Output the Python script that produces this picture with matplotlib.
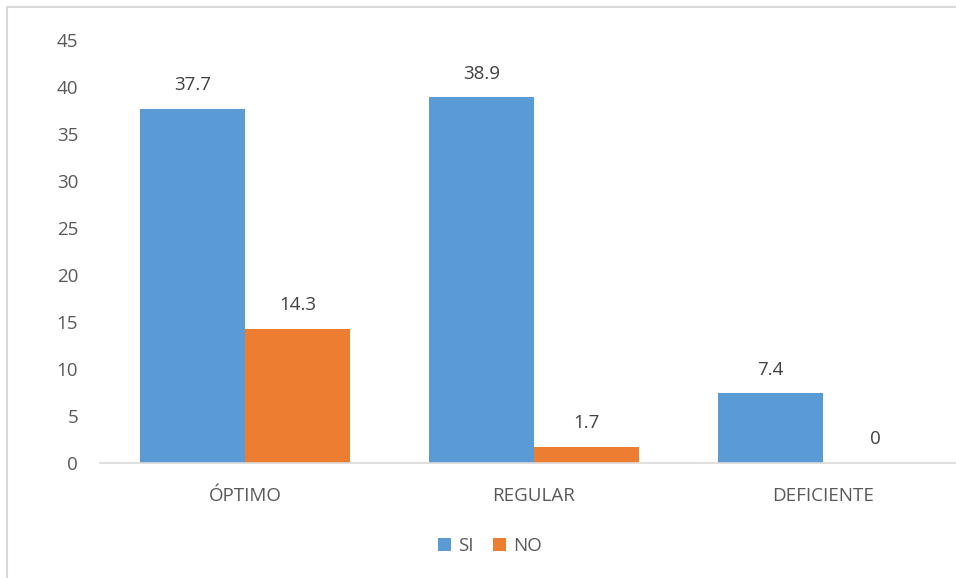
import matplotlib.pyplot as plt
import matplotlib.patches as mpatches
import numpy as np

# Data
categories = ["ÓPTIMO", "REGULAR", "DEFICIENTE"]
si_values = [37.7, 38.9, 7.4]
no_values = [14.3, 1.7, 0]
y_ticks = [0, 5, 10, 15, 20, 25, 30, 35, 40, 45]

blue = "#5B9BD5"
orange = "#ED7D31"
text_col = "#595959"

plt.rcParams['font.family'] = ['Open Sans', 'DejaVu Sans']

fig = plt.figure(figsize=(9.56, 5.78), dpi=100)

# outer chart border (cropped on the right and bottom like the original)
border = mpatches.Rectangle((7 / 956, -0.05), 1.0, 1 - 7 / 578 + 0.05,
                            transform=fig.transFigure, fill=False,
                            edgecolor="#D9D9D9", linewidth=1.5)
fig.patches.append(border)

ax = fig.add_axes([0.105, 0.199, 0.907, 0.732])

x = np.arange(len(categories))
w = 0.363
b1 = ax.bar(x - w / 2, si_values, w, color=blue, label="SI")
b2 = ax.bar(x + w / 2, no_values, w, color=orange, label="NO")

for bars in (b1, b2):
    for rect in bars:
        h = rect.get_height()
        ax.annotate(f"{h:g}", (rect.get_x() + rect.get_width() / 2, h),
                    xytext=(0, 17), textcoords="offset points",
                    ha="center", va="center", fontsize=13.5, color="#404040")

ax.set_xlim(-0.5, 2.5)
ax.set_ylim(0, 45)
ax.set_yticks(y_ticks)
ax.set_xticks(x)
ax.set_xticklabels(categories)
ax.tick_params(axis="both", length=0, labelsize=13.5, colors=text_col)
ax.tick_params(axis="y", pad=16)
ax.tick_params(axis="x", pad=17)

for s in ("top", "right", "left"):
    ax.spines[s].set_visible(False)
ax.spines["bottom"].set_color("#D9D9D9")
ax.spines["bottom"].set_linewidth(1.2)

leg = fig.legend(loc="center", bbox_to_anchor=(490 / 956, 1 - 546 / 578), ncol=2,
                 frameon=False, fontsize=13.5, handlelength=0.7, handleheight=0.7,
                 handletextpad=0.4, columnspacing=1.0)
for t in leg.get_texts():
    t.set_color(text_col)

fig.savefig("out.png", dpi=100)
